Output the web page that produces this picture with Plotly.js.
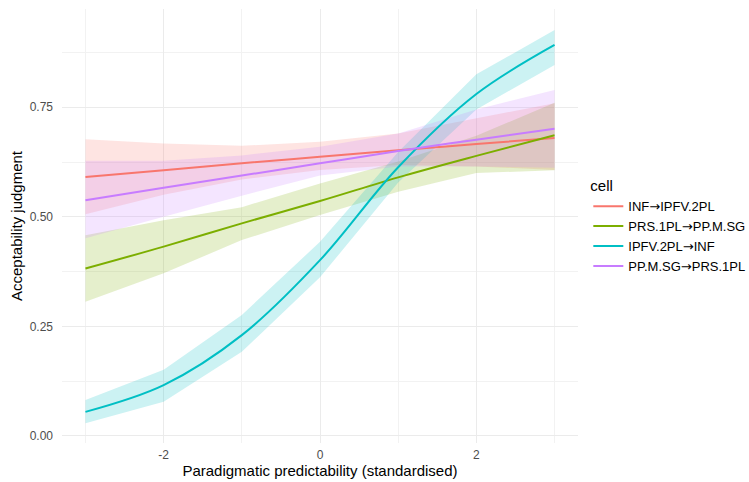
<!DOCTYPE html>
<html>
<head>
<meta charset="utf-8">
<script src="https://cdn.plot.ly/plotly-3.0.1.min.js"></script>
<style>html,body{margin:0;padding:0;background:#fff;}#chart{width:749px;height:482px;}</style>
</head>
<body>
<div id="chart"></div>
<script>
// Predictor values (standardised paradigmatic predictability)
const xs = [-3, -2, -1, 0, 1, 2, 3];

// Series names (legend order)
const cells = ["INF→IPFV.2PL", "PRS.1PL→PP.M.SG", "IPFV.2PL→INF", "PP.M.SG→PRS.1PL"];

// Fitted values
const fitInf  = [0.591, 0.606, 0.622, 0.637, 0.652, 0.666, 0.680];
const fitPrs  = [0.382, 0.432, 0.485, 0.536, 0.590, 0.639, 0.686];
const fitIpfv = [0.055, 0.116, 0.230, 0.401, 0.613, 0.780, 0.892];
const fitPp   = [0.538, 0.566, 0.594, 0.622, 0.650, 0.676, 0.701];

// Lower confidence bounds
const loInf  = [0.506, 0.550, 0.585, 0.607, 0.618, 0.615, 0.607];
const loPrs  = [0.306, 0.371, 0.447, 0.504, 0.557, 0.600, 0.606];
const loIpfv = [0.029, 0.078, 0.192, 0.362, 0.578, 0.745, 0.846];
const loPp   = [0.451, 0.500, 0.548, 0.594, 0.615, 0.615, 0.612];

// Upper confidence bounds
const hiInf  = [0.677, 0.667, 0.662, 0.671, 0.690, 0.725, 0.759];
const hiPrs  = [0.458, 0.492, 0.522, 0.576, 0.626, 0.685, 0.760];
const hiIpfv = [0.082, 0.151, 0.276, 0.443, 0.648, 0.825, 0.926];
const hiPp   = [0.628, 0.628, 0.640, 0.660, 0.690, 0.745, 0.789];

// Axis ticks
const xTickVals = [-2, 0, 2];
const xTickText = ["-2", "0", "2"];
const yTickVals = [0, 0.25, 0.5, 0.75];
const yTickText = ["0.00", "0.25", "0.50", "0.75"];

const colors = ["#F8766D", "#7CAE00", "#00BFC4", "#C77CFF"];
const fills = ["rgba(248,118,109,0.2)", "rgba(124,174,0,0.2)", "rgba(0,191,196,0.2)", "rgba(199,124,255,0.2)"];

const fits = [fitInf, fitPrs, fitIpfv, fitPp];
const los = [loInf, loPrs, loIpfv, loPp];
const his = [hiInf, hiPrs, hiIpfv, hiPp];

// legend label: render the arrow with a font whose arrow glyph is full width
function legendLabel(s) {
  return s.split("→").join('<span style="font-family:DejaVu Sans">→</span>');
}

const traces = [];
// ribbons
for (let i = 0; i < cells.length; i++) {
  const xr = xs.concat(xs.slice().reverse());
  const yr = his[i].concat(los[i].slice().reverse());
  traces.push({
    x: xr, y: yr, type: "scatter", mode: "lines",
    fill: "toself", fillcolor: fills[i],
    line: {width: 0, color: "rgba(0,0,0,0)"},
    hoverinfo: "skip", showlegend: false, legendgroup: cells[i]
  });
}
// lines
for (let i = 0; i < cells.length; i++) {
  traces.push({
    x: xs, y: fits[i], type: "scatter", mode: "lines",
    name: legendLabel(cells[i]), legendgroup: cells[i],
    line: {color: colors[i], width: 2, shape: "spline", smoothing: 1}
  });
}

const layout = {
  width: 749, height: 482,
  margin: {l: 62, r: 171, t: 9, b: 39, autoexpand: false},
  paper_bgcolor: "#ffffff", plot_bgcolor: "#ffffff",
  font: {family: "Liberation Sans, Arial, sans-serif", color: "#000"},
  xaxis: {
    range: [-3.3, 3.3],
    tickvals: xTickVals, ticktext: xTickText,
    showgrid: true, gridcolor: "#EBEBEB", gridwidth: 1,
    minor: {tickvals: [-3, -1, 1, 3], showgrid: true, gridcolor: "#F2F2F2", gridwidth: 1},
    zeroline: false, showline: false, ticks: "",
    tickfont: {size: 12, color: "#4D4D4D"},
    ticklabelstandoff: 3,
    title: {text: "Paradigmatic predictability (standardised)", font: {size: 15, color: "#000"}, standoff: 1}
  },
  yaxis: {
    range: [-0.016, 0.974],
    tickvals: yTickVals, ticktext: yTickText,
    showgrid: true, gridcolor: "#EBEBEB", gridwidth: 1,
    minor: {tickvals: [0.125, 0.375, 0.625, 0.875], showgrid: true, gridcolor: "#F2F2F2", gridwidth: 1},
    zeroline: false, showline: false, ticks: "",
    tickfont: {size: 12, color: "#4D4D4D"},
    ticklabelstandoff: 8,
    title: {text: "Acceptability judgment", font: {size: 15, color: "#000"}, standoff: 3}
  },
  legend: {
    x: 1.02, y: 0.625, xanchor: "left", yanchor: "top",
    title: {text: "cell", font: {size: 15, color: "#000"}},
    font: {size: 13, color: "#000"},
    bgcolor: "rgba(0,0,0,0)",
    tracegroupgap: 0
  },
  showlegend: true
};

Plotly.newPlot("chart", traces, layout, {displayModeBar: false, staticPlot: true});
</script>
</body>
</html>
